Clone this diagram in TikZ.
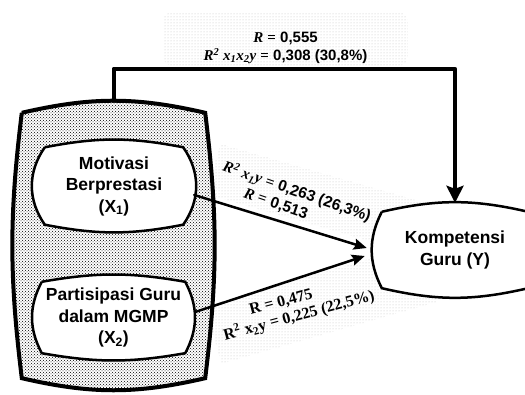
\documentclass[tikz,border=0pt]{standalone}
\usepackage{fontspec}
\setmainfont{Liberation Sans}
\newfontfamily\tnr{Liberation Serif}
\usepackage{tikz}
\usetikzlibrary{positioning,arrows.meta,patterns,backgrounds}

\newcommand{\vb}[1]{{\tnr\bfseries\itshape #1}}
\newcommand{\tvbox}[4]{%
  \draw[#4] (#1.north west) to[bend left=#2] (#1.north east) to[bend left=#3] (#1.south east)
    to[bend left=#2] (#1.south west) to[bend left=#3] (#1.north west);}

\begin{document}
\begin{tikzpicture}[x=1pt,y=1pt,line join=round,line cap=round,
    box/.style={inner sep=0pt, align=center, font=\fontsize{17.5}{21.5}\selectfont\bfseries},
    lbl/.style={inner sep=0pt, align=center, font=\fontsize{15}{18}\selectfont\bfseries},
    band/.style={pattern=dots, pattern color=black!25},
    bigarrow/.style={line width=4pt, -{Stealth[length=17pt,width=17pt,inset=3pt]}},
    arrow/.style={line width=2.5pt, -{Stealth[length=13pt,width=11pt,inset=2pt]}}]
\useasboundingbox (0,0) rectangle (525,395);

\node[box, minimum width=183pt, minimum height=265pt] at (113.5,149.5) (grp) {};
\node[box, minimum width=138pt, minimum height=77pt] at (114,209) (X1) {Motivasi\\Berprestasi\\(X\textsubscript{1})};
\node[box, minimum width=143pt, minimum height=71pt] at (113.5,77.5) (X2) {Partisipasi Guru\\dalam MGMP\\(X\textsubscript{2})};
\node[box, minimum width=146pt, minimum height=76pt] at (455,145) (Y) {Kompetensi\\Guru (Y)};

% dotted bands and box outlines
\begin{scope}[on background layer]
  \fill[band, rounded corners=10pt] (163,329) rectangle (408,383);
  \fill[band, rotate around={-16:(321,195)}] (209,169) rectangle (433,221);
  \fill[band, rotate around={16:(321,91)}] (209,61) rectangle (433,121);
  \tvbox{grp}{13}{7}{line width=4pt, pattern=crosshatch dots, pattern color=black}
  \tvbox{X1}{11}{35}{line width=2.5pt, fill=white}
  \tvbox{X2}{10}{28}{line width=2.5pt, fill=white}
  \tvbox{Y}{13}{27}{line width=2.5pt, fill=white}
\end{scope}

\draw[bigarrow] ([yshift=12pt]grp.north) -- ++(0,32) -| ([yshift=9pt]Y.north);
\draw[arrow] ([xshift=11pt,yshift=-9pt]X1.east) -- ([xshift=-15pt,yshift=2pt]Y.west);
\draw[arrow] ([xshift=10pt,yshift=5.5pt]X2.east) -- ([xshift=-17pt,yshift=-6pt]Y.west);

\node[lbl] at (285.5,347) (lbltop) {\vb{R} {\tnr =} 0,555\\\vb{R\textsuperscript{2} x\textsubscript{1}x\textsubscript{2}y} {\tnr =} 0,308 (30,8\%)};
\node[lbl, rotate=-19, font=\fontsize{15.5}{18}\selectfont\bfseries] at (294,195) (lbl1)
  {\vb{R\textsuperscript{2} x\textsubscript{1}y} {\tnr =} 0,263 (26,3\%)\\\hspace*{-32pt}\vb{R} {\tnr =} 0,513};
\node[lbl, rotate=15, font=\fontsize{16}{18}\selectfont\tnr\bfseries] at (297,87) (lbl2)
  {\hspace*{-28pt}R = 0,475\\R\textsuperscript{2} x\textsubscript{2}y = 0,225 (22,5\%)};
\end{tikzpicture}
\end{document}
